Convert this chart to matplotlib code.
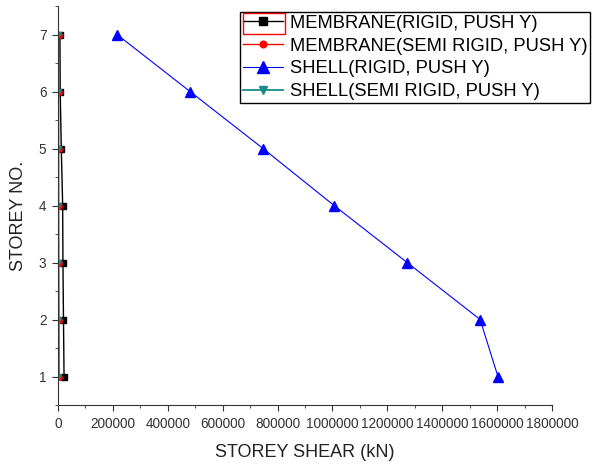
import matplotlib.pyplot as plt
from matplotlib.patches import Rectangle
from matplotlib.ticker import MultipleLocator

plt.rcParams['font.family'] = ['Liberation Sans', 'DejaVu Sans']

storey = [1, 2, 3, 4, 5, 6, 7]
membrane_rigid = [22000, 20000, 18000, 17000, 12000, 8000, 7000]
membrane_semi = [4000, 3500, 3000, 2500, 2500, 2000, 2000]
shell_rigid = [1603000, 1538000, 1272000, 1006000, 747000, 481000, 215000]
shell_semi = [1500, 1500, 1500, 1500, 1500, 1500, 1500]

fig = plt.figure(figsize=(5.93, 4.66), dpi=100)
ax = fig.add_axes([58 / 593, 1 - 405 / 466, 494 / 593, 399 / 466])

ax.plot(membrane_rigid, storey, color='black', marker='s', markersize=5, lw=1,
        label='MEMBRANE(RIGID, PUSH Y)')
ax.plot(membrane_semi, storey, color='red', marker='o', markersize=4, lw=1,
        label='MEMBRANE(SEMI RIGID, PUSH Y)')
ax.plot(shell_rigid, storey, color='blue', marker='^', markersize=7, lw=0.8,
        label='SHELL(RIGID, PUSH Y)')
ax.plot(shell_semi, storey, color='#1a8a8a', marker='v', markersize=5, lw=1.3,
        label='SHELL(SEMI RIGID, PUSH Y)')

ax.set_xlim(0, 1800000)
ax.set_ylim(0.5, 7.5)
ax.xaxis.set_major_locator(MultipleLocator(200000))
ax.xaxis.set_minor_locator(MultipleLocator(100000))
ax.yaxis.set_major_locator(MultipleLocator(1))
ax.yaxis.set_minor_locator(MultipleLocator(0.5))
ax.spines['top'].set_visible(False)
ax.spines['right'].set_visible(False)
for s in ['left', 'bottom']:
    ax.spines[s].set_color('#333333')
ax.tick_params(which='major', length=4.3, direction='out', labelsize=9.8,
               colors='#333333', pad=4)
ax.tick_params(which='minor', length=2.5, direction='out', colors='#333333')
ax.set_xticklabels([str(int(v)) for v in ax.get_xticks()])

ax.set_xlabel('STOREY SHEAR (kN)', fontsize=13, color='#222222')
ax.set_ylabel('STOREY NO.', fontsize=13, color='#222222')
ax.xaxis.set_label_coords(0.5, -0.098)
ax.yaxis.set_label_coords(-0.063, 0.474)

leg = ax.legend(loc='upper left', bbox_to_anchor=(0.3684, 0.985), fontsize=13.2,
                frameon=True, fancybox=False, edgecolor='black', framealpha=1,
                borderpad=0.15, labelspacing=0.32, handlelength=2.2,
                handletextpad=0.38, borderaxespad=0, markerscale=1.2)
leg.get_frame().set_linewidth(1)

fig.patches.append(Rectangle((243 / 593, 1 - 34 / 466), 42 / 593, 21 / 466,
                             transform=fig.transFigure, fill=False,
                             edgecolor='red', lw=1))

fig.savefig('out.png', dpi=100)
